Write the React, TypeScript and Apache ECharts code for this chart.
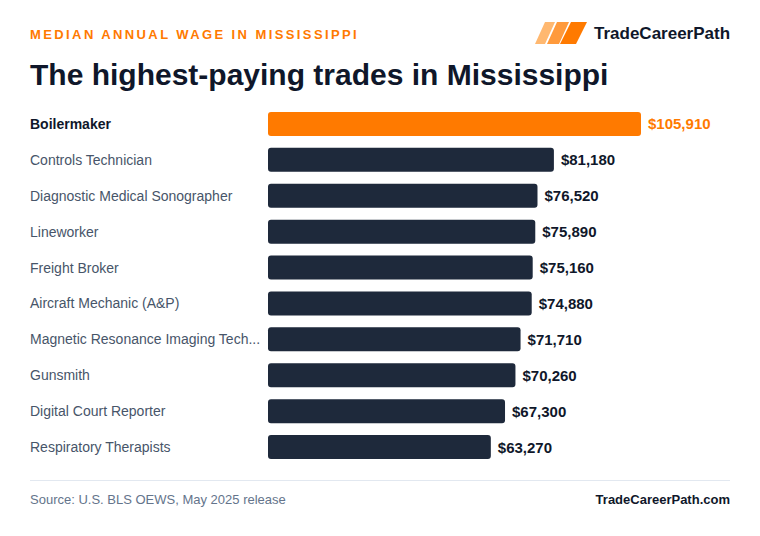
import React, { useEffect, useRef } from "react";
import * as echarts from "echarts";

const trades = [
  "Boilermaker",
  "Controls Technician",
  "Diagnostic Medical Sonographer",
  "Lineworker",
  "Freight Broker",
  "Aircraft Mechanic (A&P)",
  "Magnetic Resonance Imaging Tech...",
  "Gunsmith",
  "Digital Court Reporter",
  "Respiratory Therapists",
];

const medianWages = [105910, 81180, 76520, 75890, 75160, 74880, 71710, 70260, 67300, 63270];

const kicker = "MEDIAN ANNUAL WAGE IN MISSISSIPPI";
const headline = "The highest-paying trades in Mississippi";
const brand = "TradeCareerPath";
const sourceNote = "Source: U.S. BLS OEWS, May 2025 release";
const siteName = "TradeCareerPath.com";

const ORANGE = "#ff7a00";
const NAVY = "#1e293b";
const INK = "#0f172a";
const SLATE = "#475569";
const FONT = "'Liberation Sans', Arial, sans-serif";

const fmtMoney = (v: number) => "$" + v.toLocaleString("en-US");

export default function App() {
  const ref = useRef<HTMLDivElement>(null);

  useEffect(() => {
    if (!ref.current) return;
    const chart = echarts.init(ref.current, null, { renderer: "svg" });

    const option: echarts.EChartsOption = {
      animation: false,
      backgroundColor: "#ffffff",
      grid: { left: 268, top: 106, width: 373, height: 359, containLabel: false },
      xAxis: {
        type: "value",
        min: 0,
        max: "dataMax",
        show: false,
      },
      yAxis: {
        type: "category",
        inverse: true,
        data: trades,
        axisLine: { show: false },
        axisTick: { show: false },
        splitLine: { show: false },
        axisLabel: {
          align: "left",
          margin: 238,
          fontFamily: FONT,
          fontSize: 14,
          color: SLATE,
          formatter: (v: string, i: number) => (i === 0 ? `{top|${v}}` : v),
          rich: {
            top: { fontFamily: FONT, fontSize: 14, fontWeight: "bold", color: INK },
          },
        },
      },
      series: [
        {
          type: "bar",
          barWidth: 24,
          data: medianWages.map((v, i) => ({
            value: v,
            itemStyle: { color: i === 0 ? ORANGE : NAVY, borderRadius: 3 },
            label: { color: i === 0 ? ORANGE : INK },
          })),
          label: {
            show: true,
            position: "right",
            distance: 7,
            fontFamily: FONT,
            fontSize: 15,
            fontWeight: "bold",
            formatter: (p: any) => fmtMoney(p.value),
          },
        },
      ],
      graphic: [
        {
          type: "text",
          x: 30,
          y: 74,
          style: {
            text: headline,
            fontFamily: FONT,
            fontSize: 30,
            fontWeight: "bold",
            fill: INK,
            verticalAlign: "middle",
          },
        },
        {
          type: "polygon",
          shape: { points: [[545, 22], [555, 22], [545, 44], [535, 44]] },
          style: { fill: "#ffb870" },
        },
        {
          type: "polygon",
          shape: { points: [[557, 22], [569, 22], [559, 44], [547, 44]] },
          style: { fill: "#ff9a3c" },
        },
        {
          type: "polygon",
          shape: { points: [[571, 22], [587, 22], [576, 44], [560, 44]] },
          style: { fill: ORANGE },
        },
        {
          type: "text",
          x: 594,
          y: 33,
          style: {
            text: brand,
            fontFamily: FONT,
            fontSize: 17,
            fontWeight: "bold",
            fill: INK,
            verticalAlign: "middle",
          },
        },
        {
          type: "line",
          shape: { x1: 30, y1: 480.5, x2: 730, y2: 480.5 },
          style: { stroke: "#e2e8f0", lineWidth: 1 },
        },
        {
          type: "text",
          x: 30,
          y: 499,
          style: {
            text: sourceNote,
            fontFamily: FONT,
            fontSize: 13,
            fill: "#64748b",
            verticalAlign: "middle",
          },
        },
        {
          type: "text",
          x: 730,
          y: 499,
          style: {
            text: siteName,
            fontFamily: FONT,
            fontSize: 13,
            fontWeight: "bold",
            fill: INK,
            align: "right",
            verticalAlign: "middle",
          },
        },
      ],
    };

    chart.setOption(option);
    return () => chart.dispose();
  }, []);

  return (
    <div style={{ position: "absolute", left: 0, top: 0, width: 760, height: 536 }}>
      <div ref={ref} style={{ width: 760, height: 536 }} />
      {/* tracked-out kicker line above the headline */}
      <div
        style={{
          position: "absolute",
          left: 30,
          top: 28,
          fontFamily: FONT,
          fontSize: 13,
          lineHeight: "13px",
          fontWeight: "bold",
          letterSpacing: "2.4px",
          color: ORANGE,
          whiteSpace: "nowrap",
          pointerEvents: "none",
        }}
      >
        {kicker}
      </div>
    </div>
  );
}
